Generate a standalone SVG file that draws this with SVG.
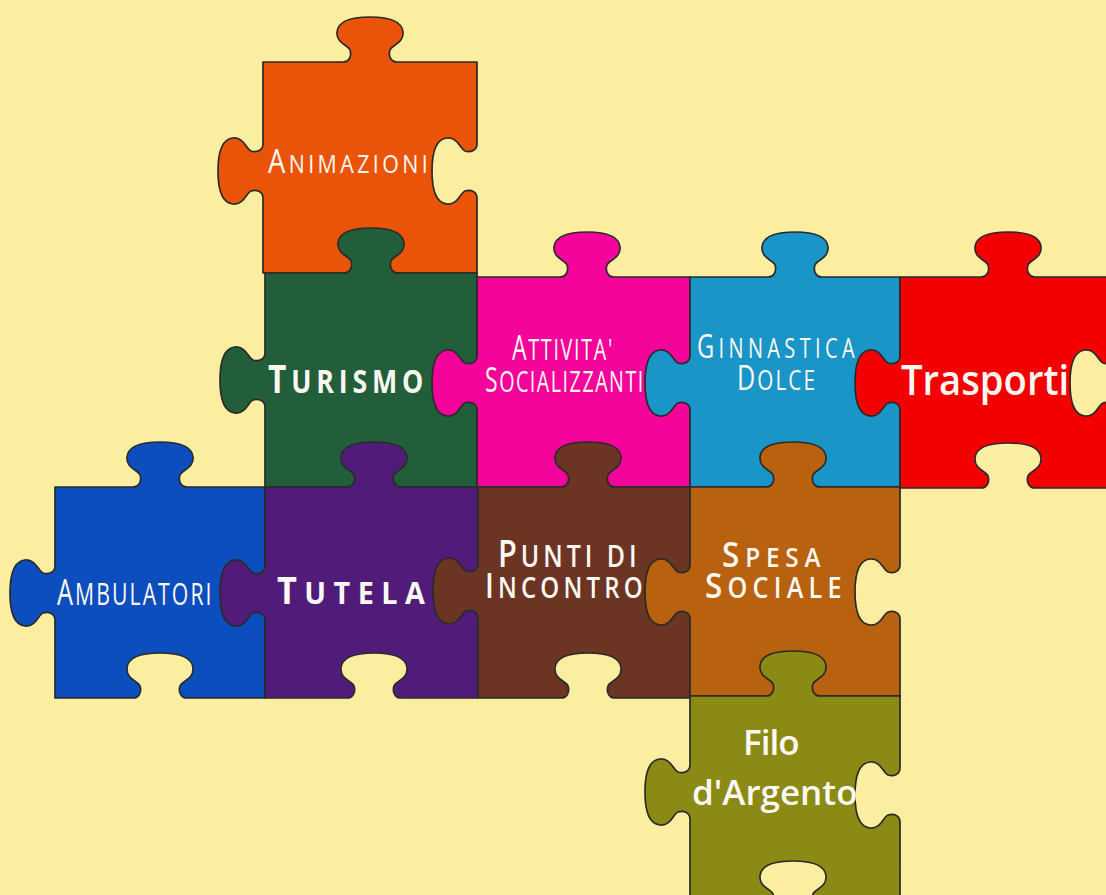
<svg xmlns="http://www.w3.org/2000/svg" width="1106" height="895" viewBox="0 0 1106 895">
<style>
.p{stroke:#2a2a2a;stroke-width:1.7;stroke-linejoin:round}
.t{font-family:"Open Sans","Liberation Sans",sans-serif;fill:#FBF8F2}
.r{font-weight:500}
.s{font-weight:600}
.b{font-weight:700}
</style>
<rect width="1106" height="895" fill="#FBEEA1"/>
<g id="animazioni">
<path class="p" fill="#EA5409" d="M263,62 H343 c6,0 9,-6 7,-12 c-2,-5 -14,-7 -13,-18 c1,-11 15,-15 33,-15 c18,0 32,4 33,15 c1,11 -11,13 -13,18 c-2,6 1,12 7,12 H477 V144 c0,6 -6,9 -12,7 c-5,-2 -7,-14 -18,-13 c-11,1 -15,15 -15,33 c0,18 4,32 15,33 c11,1 13,-11 18,-13 c6,-2 12,1 12,7 V273 H263 V198 c0,-6 -6,-9 -12,-7 c-5,2 -7,14 -18,13 c-11,-1 -15,-15 -15,-33 c0,-18 4,-32 15,-33 c11,-1 13,11 18,13 c6,2 12,-1 12,-7 Z"/>
<text class="t r" transform="translate(268,173) scale(0.855,1)" letter-spacing="4"><tspan font-size="32">A</tspan><tspan font-size="25">NIMAZIONI</tspan></text>
</g>
<g id="turismo">
<path class="p" fill="#235E3A" d="M265,273 H344 c6,0 9,-6 7,-12 c-2,-5 -14,-7 -13,-18 c1,-11 15,-15 33,-15 c18,0 32,4 33,15 c1,11 -11,13 -13,18 c-2,6 1,12 7,12 H477 V487 H265 V407 c0,-6 -6,-9 -12,-7 c-5,2 -7,14 -18,13 c-11,-1 -15,-15 -15,-33 c0,-18 4,-32 15,-33 c11,-1 13,11 18,13 c6,2 12,-1 12,-7 Z"/>
<text class="t b" transform="translate(268,393) scale(0.81,1)" letter-spacing="6"><tspan font-size="39">T</tspan><tspan font-size="33">URISMO</tspan></text>
</g>
<g id="attivita">
<path class="p" fill="#F4049A" d="M477,277 H560 c6,0 9,-6 7,-12 c-2,-5 -14,-7 -13,-18 c1,-11 15,-15 33,-15 c18,0 32,4 33,15 c1,11 -11,13 -13,18 c-2,6 1,12 7,12 H690 V487 H477 V410 c0,-6 -6,-9 -12,-7 c-5,2 -7,14 -18,13 c-11,-1 -15,-15 -15,-33 c0,-18 4,-32 15,-33 c11,-1 13,11 18,13 c6,2 12,-1 12,-7 Z"/>
<text class="t r" transform="scale(0.68,1)"><tspan x="752.9" y="360" letter-spacing="2.5"><tspan font-size="34">A</tspan><tspan font-size="29">TTIVITA'</tspan></tspan><tspan x="713.2" y="392" letter-spacing="2.2"><tspan font-size="34">S</tspan><tspan font-size="29">OCIALIZZANTI</tspan></tspan></text>
</g>
<g id="ginnastica">
<path class="p" fill="#1A95C8" d="M690,277 H768 c6,0 9,-6 7,-12 c-2,-5 -14,-7 -13,-18 c1,-11 15,-15 33,-15 c18,0 32,4 33,15 c1,11 -11,13 -13,18 c-2,6 1,12 7,12 H900 V487 H690 V410 c0,-6 -6,-9 -12,-7 c-5,2 -7,14 -18,13 c-11,-1 -15,-15 -15,-33 c0,-18 4,-32 15,-33 c11,-1 13,11 18,13 c6,2 12,-1 12,-7 Z"/>
<text class="t r" transform="scale(0.74,1)"><tspan x="941.9" y="358" letter-spacing="5.9"><tspan font-size="32">G</tspan><tspan font-size="27">INNASTICA</tspan></tspan><tspan x="995.9" y="390" letter-spacing="2.8"><tspan font-size="34">D</tspan><tspan font-size="28">OLCE</tspan></tspan></text>
</g>
<g id="trasporti">
<path class="p" fill="#F40000" d="M900,277 H981 c6,0 9,-6 7,-12 c-2,-5 -14,-7 -13,-18 c1,-11 15,-15 33,-15 c18,0 32,4 33,15 c1,11 -11,13 -13,18 c-2,6 1,12 7,12 H1115 V356 c0,6 -6,9 -12,7 c-5,-2 -7,-14 -18,-13 c-11,1 -15,15 -15,33 c0,18 4,32 15,33 c11,1 13,-11 18,-13 c6,-2 12,1 12,7 V488 H1035 c-6,0 -9,-6 -7,-12 c2,-5 14,-7 13,-18 c-1,-11 -15,-15 -33,-15 c-18,0 -32,4 -33,15 c-1,11 11,13 13,18 c2,6 -1,12 -7,12 H900 V410 c0,-6 -6,-9 -12,-7 c-5,2 -7,14 -18,13 c-11,-1 -15,-15 -15,-33 c0,-18 4,-32 15,-33 c11,-1 13,11 18,13 c6,2 12,-1 12,-7 Z"/>
<text class="t s" transform="translate(901,395) scale(0.91,1)" font-size="42">Trasporti</text>
</g>
<g id="ambulatori">
<path class="p" fill="#0C4EBE" d="M55,487 H133 c6,0 9,-6 7,-12 c-2,-5 -14,-7 -13,-18 c1,-11 15,-15 33,-15 c18,0 32,4 33,15 c1,11 -11,13 -13,18 c-2,6 1,12 7,12 H265 V698 H187 c-6,0 -9,-6 -7,-12 c2,-5 14,-7 13,-18 c-1,-11 -15,-15 -33,-15 c-18,0 -32,4 -33,15 c-1,11 11,13 13,18 c2,6 -1,12 -7,12 H55 V620 c0,-6 -6,-9 -12,-7 c-5,2 -7,14 -18,13 c-11,-1 -15,-15 -15,-33 c0,-18 4,-32 15,-33 c11,-1 13,11 18,13 c6,2 12,-1 12,-7 Z"/>
<text class="t r" transform="translate(57,605) scale(0.685,1)" letter-spacing="3"><tspan font-size="37">A</tspan><tspan font-size="31">MBULATORI</tspan></text>
</g>
<g id="tutela">
<path class="p" fill="#511C79" d="M265,487 H347 c6,0 9,-6 7,-12 c-2,-5 -14,-7 -13,-18 c1,-11 15,-15 33,-15 c18,0 32,4 33,15 c1,11 -11,13 -13,18 c-2,6 1,12 7,12 H478 V698 H401 c-6,0 -9,-6 -7,-12 c2,-5 14,-7 13,-18 c-1,-11 -15,-15 -33,-15 c-18,0 -32,4 -33,15 c-1,11 11,13 13,18 c2,6 -1,12 -7,12 H265 V620 c0,-6 -6,-9 -12,-7 c-5,2 -7,14 -18,13 c-11,-1 -15,-15 -15,-33 c0,-18 4,-32 15,-33 c11,-1 13,11 18,13 c6,2 12,-1 12,-7 Z"/>
<text class="t b" transform="translate(277,604) scale(0.93,1)" letter-spacing="8"><tspan font-size="37">T</tspan><tspan font-size="31">UTELA</tspan></text>
</g>
<g id="punti-di-incontro">
<path class="p" fill="#6C3423" d="M478,487 H561 c6,0 9,-6 7,-12 c-2,-5 -14,-7 -13,-18 c1,-11 15,-15 33,-15 c18,0 32,4 33,15 c1,11 -11,13 -13,18 c-2,6 1,12 7,12 H690 V698 H615 c-6,0 -9,-6 -7,-12 c2,-5 14,-7 13,-18 c-1,-11 -15,-15 -33,-15 c-18,0 -32,4 -33,15 c-1,11 11,13 13,18 c2,6 -1,12 -7,12 H478 V618 c0,-6 -6,-9 -12,-7 c-5,2 -7,14 -18,13 c-11,-1 -15,-15 -15,-33 c0,-18 4,-32 15,-33 c11,-1 13,11 18,13 c6,2 12,-1 12,-7 Z"/>
<text class="t s" transform="scale(0.83,1)"><tspan x="600" y="567" letter-spacing="4.8"><tspan font-size="37">P</tspan><tspan font-size="30">UNTI DI</tspan></tspan><tspan x="584.3" y="598" letter-spacing="5"><tspan font-size="35">I</tspan><tspan font-size="29">NCONTRO</tspan></tspan></text>
</g>
<g id="spesa-sociale">
<path class="p" fill="#B86210" d="M690,487 H766 c6,0 9,-6 7,-12 c-2,-5 -14,-7 -13,-18 c1,-11 15,-15 33,-15 c18,0 32,4 33,15 c1,11 -11,13 -13,18 c-2,6 1,12 7,12 H900 V565 c0,6 -6,9 -12,7 c-5,-2 -7,-14 -18,-13 c-11,1 -15,15 -15,33 c0,18 4,32 15,33 c11,1 13,-11 18,-13 c6,-2 12,1 12,7 V696 H690 V619 c0,-6 -6,-9 -12,-7 c-5,2 -7,14 -18,13 c-11,-1 -15,-15 -15,-33 c0,-18 4,-32 15,-33 c11,-1 13,11 18,13 c6,2 12,-1 12,-7 Z"/>
<text class="t s" transform="scale(0.9,1)"><tspan x="802.2" y="567" letter-spacing="6.5"><tspan font-size="35">S</tspan><tspan font-size="27">PESA</tspan></tspan><tspan x="783.3" y="598" letter-spacing="5.8"><tspan font-size="35">S</tspan><tspan font-size="28">OCIALE</tspan></tspan></text>
</g>
<g id="filo-d-argento">
<path class="p" fill="#8A8A14" d="M690,696 H766 c6,0 9,-6 7,-12 c-2,-5 -14,-7 -13,-18 c1,-11 15,-15 33,-15 c18,0 32,4 33,15 c1,11 -11,13 -13,18 c-2,6 1,12 7,12 H900 V768 c0,6 -6,9 -12,7 c-5,-2 -7,-14 -18,-13 c-11,1 -15,15 -15,33 c0,18 4,32 15,33 c11,1 13,-11 18,-13 c6,-2 12,1 12,7 V906 H820 c-6,0 -9,-6 -7,-12 c2,-5 14,-7 13,-18 c-1,-11 -15,-15 -33,-15 c-18,0 -32,4 -33,15 c-1,11 11,13 13,18 c2,6 -1,12 -7,12 H690 V819 c0,-6 -6,-9 -12,-7 c-5,2 -7,14 -18,13 c-11,-1 -15,-15 -15,-33 c0,-18 4,-32 15,-33 c11,-1 13,11 18,13 c6,2 12,-1 12,-7 Z"/>
<text class="t s" font-size="35"><tspan x="743" y="755" letter-spacing="-1">Filo</tspan><tspan x="692" y="805">d'Argento</tspan></text>
</g>
<g id="connectors"/>
</svg>
